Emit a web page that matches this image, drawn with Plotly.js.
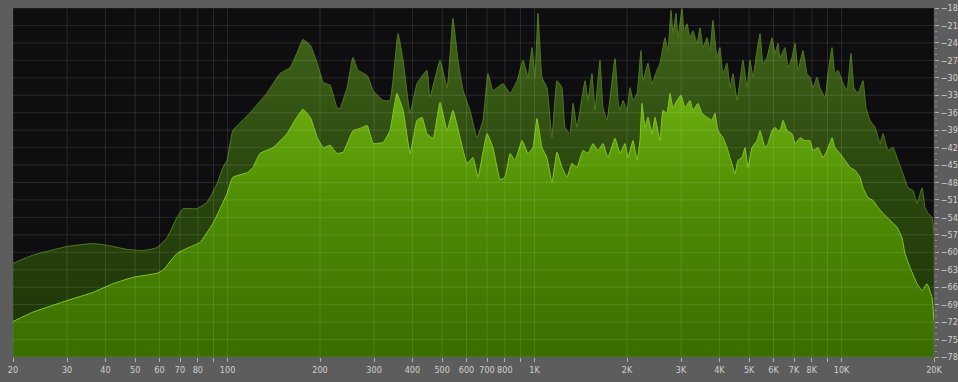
<!DOCTYPE html>
<html>
<head>
<meta charset="utf-8">
<script src="https://cdn.plot.ly/plotly-3.0.1.min.js"></script>
<style>
  html, body { margin: 0; padding: 0; background: #5d5d5d; }
  #chart { width: 958px; height: 382px; }
</style>
</head>
<body>
<div id="chart"></div>
<script>
// Peak-hold spectrum (dark layer): frequency in Hz, level in dB
const peakFreq = [20, 23.2, 30, 36.4, 40.5, 47, 53, 58.9, 63.5, 68.4, 71.6, 79.5, 85.7, 92.4, 96.6, 99.6,
  104, 118, 134, 148, 160, 168, 176, 186, 196, 205, 216, 227, 232, 245, 256, 266, 285, 298, 321, 338,
  359, 373, 393, 414, 446, 456, 492, 519, 542, 563, 585, 616, 649, 679, 705, 732, 789, 832, 877,
  917, 952, 981, 1003, 1026, 1057, 1097, 1139, 1183, 1228, 1256, 1304, 1334, 1374, 1460, 1493, 1538,
  1573, 1633, 1670, 1721, 1828, 1870,
  1898, 1941, 2000, 2045, 2092, 2156, 2221, 2255, 2341, 2412, 2505, 2561, 2659, 2720, 2782, 2824,
  2888, 2932, 3022, 3067, 3137, 3208, 3281, 3381, 3458, 3537, 3644, 3727, 3811, 3928, 4016, 4108,
  4234, 4330, 4429, 4564, 4667, 4774, 4919, 5031, 5146, 5302, 5425, 5546, 5715, 5934, 6069, 6207,
  6300, 6541, 6690, 6894, 7054, 7211, 7487, 7715, 7890, 8071, 8315, 8506, 8831, 9031, 9309, 9517,
  9734, 10030, 10414, 10731, 10975, 11309, 11742, 12008, 12374, 12849, 13341, 13645, 14163, 14706,
  15266, 15849, 16455, 17083, 17607, 18278, 18694, 19118, 19702, 20000];
const peakDb = [-61.9, -60.5, -59.0, -58.5, -58.8, -59.5, -59.7, -59.2, -57.5, -54.0, -52.5, -52.5, -51.4, -48.2, -45.4, -44.2,
  -39.1, -36.1, -32.7, -29.3, -28.2, -25.8, -23.4, -24.4, -27.5, -30.8, -31.3, -35.1, -35.3, -31.7, -26.5, -28.7, -29.6, -32.2, -33.9, -33.9,
  -22.4, -27.0, -36.1, -31.0, -28.7, -33.4, -27.0, -31.7, -19.8, -27.0, -32.2, -35.6, -40.3, -37.3, -29.3, -32.2, -31.0, -32.7, -30.5,
  -27.0, -29.9, -24.8, -29.9, -18.9, -29.9, -31.7, -40.3, -30.5, -31.7, -38.5, -39.6, -34.4, -38.5, -30.5, -33.9, -29.3,
  -35.6, -27.0, -35.1, -37.3, -26.7, -33.9,
  -35.6, -33.9, -35.6, -31.7, -33.9, -32.7, -25.3, -30.5, -27.5, -31.0, -28.7, -27.5, -23.1, -25.3, -18.4, -22.4,
  -18.9, -23.1, -18.1, -21.9, -20.7, -23.1, -21.9, -24.1, -21.4, -24.8, -23.1, -25.3, -20.1, -26.5, -24.8, -29.3,
  -27.5, -31.7, -29.3, -33.9, -30.5, -27.0, -31.7, -27.0, -29.9, -25.3, -22.4, -27.5, -26.5, -23.1, -25.8, -24.1,
  -26.5, -24.8, -28.2, -26.5, -24.1, -28.7, -25.3, -29.3, -29.9, -31.7, -29.9, -31.7, -33.4, -29.3, -24.8, -29.3,
  -28.7, -30.5, -32.2, -25.8, -31.7, -32.7, -30.5, -35.1, -37.3, -38.5, -41.3, -39.6, -42.5, -42.0,
  -44.2, -46.5, -48.9, -49.4, -51.6, -48.9, -52.3, -53.3, -54.0, -56.8];

// Average spectrum (bright layer): frequency in Hz, level in dB
const avgFreq = [20, 23.2, 30, 36.4, 42.3, 49.2, 58.9, 61.6, 68.4, 73.8, 81.3, 89.7, 99.6, 104, 116, 121,
  127.5, 140.6, 156, 168, 176, 186, 196, 205, 216, 227, 238, 256, 270, 285, 298, 321, 338, 356, 373,
  393, 414, 430, 446, 467, 492, 519, 542, 572, 602, 630, 654, 700, 732, 772, 801, 832, 864, 910, 952,
  988, 1018, 1057, 1097, 1139, 1183, 1228, 1275, 1324, 1374, 1438, 1493, 1550, 1609, 1670, 1734, 1828,
  1898, 1970, 2015, 2092, 2156, 2204, 2238, 2289, 2341, 2412, 2468, 2561, 2620, 2700, 2761, 2824,
  2910, 2999, 3090, 3208, 3281, 3406, 3510, 3644, 3783, 3869, 3957, 4108, 4234, 4330, 4496, 4598,
  4738, 4846, 4957, 5107, 5302, 5425, 5632, 5758, 5934, 6069, 6207, 6300, 6446, 6643, 6894, 7054,
  7324, 7600, 7890, 8071, 8378, 8698, 8965, 9309, 9517, 9881, 10259, 10651, 11059, 11480, 11742,
  12190, 12657, 13139, 13645, 14380, 15152, 15731, 16092, 16706, 17607, 18278, 18976, 19702, 20000];
const avgDb = [-71.9, -70.3, -68.3, -66.9, -65.4, -64.3, -63.6, -63.1, -60.2, -59.3, -58.3, -55.0, -49.9, -47.1, -46.3, -45.4,
  -43.0, -42.0, -39.6, -36.8, -35.4, -36.8, -40.3, -42.0, -41.6, -43.0, -42.8, -39.1, -38.7, -38.2, -41.3, -41.1, -39.1, -32.7, -35.6,
  -43.0, -37.3, -36.8, -39.6, -40.4, -34.2, -39.1, -35.6, -40.3, -44.7, -43.7, -47.1, -39.6, -42.0, -47.5, -47.1, -43.0, -44.2, -40.8, -43.0,
  -42.0, -37.0, -42.0, -43.7, -48.0, -42.8, -45.4, -47.1, -44.7, -45.4, -42.5, -43.0, -41.3, -42.5, -41.3, -43.7, -40.4,
  -43.0, -41.3, -43.7, -40.8, -44.2, -40.8, -34.4, -38.5, -36.8, -39.6, -36.8, -40.8, -35.6, -36.1, -32.7, -35.1,
  -33.9, -33.0, -35.1, -33.9, -35.6, -34.4, -36.1, -36.8, -37.3, -36.1, -39.1, -40.3, -42.0, -43.7, -46.5, -44.2,
  -43.7, -42.0, -45.4, -42.0, -40.8, -39.1, -42.0, -41.3, -39.1, -38.5, -39.1, -39.1, -37.3, -39.1, -39.6, -41.3,
  -40.3, -40.8, -40.8, -42.5, -42.0, -43.7, -42.5, -40.3, -42.0, -43.0, -44.2, -45.4, -45.9, -47.1, -48.9,
  -50.6, -51.1, -52.3, -53.3, -54.5, -55.7, -57.5, -60.2, -62.6, -65.4, -66.6, -65.4, -67.8, -71.7];

// Axis ticks
const freqTicks = [20, 30, 40, 50, 60, 70, 80, 90, 100, 200, 300, 400, 500, 600, 700, 800, 900,
  1000, 2000, 3000, 4000, 5000, 6000, 7000, 8000, 9000, 10000, 20000];
const freqLabels = ['20', '30', '40', '50', '60', '70', '80', '', '100', '200', '300', '400', '500', '600', '700', '800', '',
  '1K', '2K', '3K', '4K', '5K', '6K', '7K', '8K', '', '10K', '20K'];
const dbTicks = [-18, -21, -24, -27, -30, -33, -36, -39, -42, -45, -48, -51, -54, -57, -60, -63, -66, -69, -72, -75, -78];

const fMin = freqTicks[0];
const fMax = freqTicks[freqTicks.length - 1];
const dbTop = dbTicks[0];
const dbFloor = dbTicks[dbTicks.length - 1];

const labelFont = { family: 'Liberation Sans Narrow, DejaVu Sans Condensed, Arial Narrow, sans-serif', size: 9, color: '#d0d0d0' };

// Each fill is closed against a flat floor line at the bottom of the scale
function floorTrace() {
  return { x: [fMin, fMax], y: [dbFloor, dbFloor], mode: 'lines', line: { width: 0 },
           hoverinfo: 'skip', showlegend: false };
}

const traces = [
  floorTrace(),
  {
    x: peakFreq, y: peakDb, mode: 'lines', fill: 'tonexty',
    line: { color: '#51781f', width: 1, shape: 'spline', smoothing: 0.35 },
    fillcolor: '#2c4810',
    fillgradient: { type: 'vertical', start: dbFloor, stop: -22,
      colorscale: [[0, '#1c3306'], [0.6, '#2c4a0f'], [1, '#3f6119']] },
    showlegend: false, hoverinfo: 'skip'
  },
  floorTrace(),
  {
    x: avgFreq, y: avgDb, mode: 'lines', fill: 'tonexty',
    line: { color: '#86c824', width: 1, shape: 'spline', smoothing: 0.35 },
    fillcolor: '#4c8a04',
    fillgradient: { type: 'vertical', start: dbFloor, stop: -33,
      colorscale: [[0, '#3b6c00'], [0.6, '#4f8e04'], [1, '#6cae10']] },
    showlegend: false, hoverinfo: 'skip'
  }
];

// Grid drawn over the fills so it shows through the green
const gridColor = 'rgba(255,255,255,0.11)';
const shapes = [];
freqTicks.forEach(f => shapes.push({ type: 'line', layer: 'above', xref: 'x', yref: 'paper',
  x0: f, x1: f, y0: 0, y1: 1, line: { color: gridColor, width: 1 } }));
dbTicks.forEach(d => shapes.push({ type: 'line', layer: 'above', xref: 'paper', yref: 'y',
  x0: 0, x1: 1, y0: d, y1: d, line: { color: gridColor, width: 1 } }));

const layout = {
  width: 958, height: 382,
  margin: { l: 13, r: 24, t: 8, b: 25, pad: 0 },
  paper_bgcolor: '#5d5d5d',
  plot_bgcolor: '#0e0e10',
  showlegend: false,
  shapes: shapes,
  xaxis: {
    type: 'log', range: [Math.log10(fMin), Math.log10(fMax)],
    tickvals: freqTicks, ticktext: freqLabels,
    showgrid: false, zeroline: false, showline: false,
    ticks: 'outside', ticklen: 4, tickcolor: '#b0b0b0', tickwidth: 1,
    tickfont: labelFont, fixedrange: true
  },
  yaxis: {
    side: 'right', range: [dbFloor, dbTop],
    tickvals: dbTicks,
    showgrid: false, zeroline: false, showline: false,
    ticks: 'outside', ticklen: 4, tickcolor: '#b0b0b0', tickwidth: 1,
    minor: { dtick: 1, ticks: 'outside', ticklen: 2, tickcolor: '#909090', showgrid: false },
    tickfont: labelFont, fixedrange: true
  }
};

Plotly.newPlot('chart', traces, layout, { displayModeBar: false, staticPlot: true });
</script>
</body>
</html>
